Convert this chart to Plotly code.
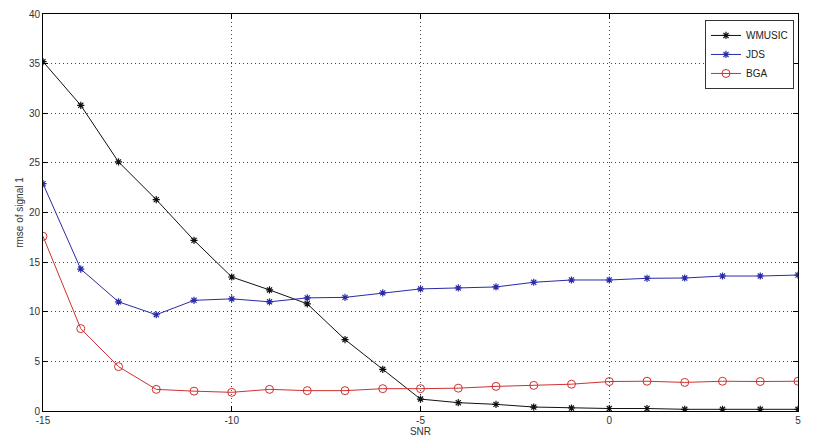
import plotly.graph_objects as go

snr = list(range(-15, 6))
wmusic = [35.2, 30.8, 25.1, 21.3, 17.2, 13.5, 12.2, 10.8, 7.2, 4.2, 1.2,
          0.84, 0.67, 0.4, 0.3, 0.25, 0.25, 0.17, 0.17, 0.17, 0.17]
jds = [22.9, 14.3, 11.0, 9.7, 11.15, 11.3, 11.0, 11.4, 11.45, 11.9, 12.3,
       12.4, 12.5, 12.97, 13.2, 13.2, 13.37, 13.4, 13.6, 13.6, 13.7]
bga = [17.6, 8.3, 4.47, 2.18, 2.0, 1.88, 2.18, 2.05, 2.05, 2.25, 2.25,
       2.3, 2.48, 2.58, 2.7, 2.97, 3.0, 2.88, 3.0, 2.97, 3.0]

x_ticks = [-15, -10, -5, 0, 5]
y_ticks = [0, 5, 10, 15, 20, 25, 30, 35, 40]

fig = go.Figure()
fig.add_trace(go.Scatter(x=snr, y=wmusic, name="WMUSIC", mode="lines+markers",
                         line=dict(color="#111111", width=1),
                         marker=dict(symbol="asterisk-open", size=6,
                                     line=dict(color="#111111", width=1.2))))
fig.add_trace(go.Scatter(x=snr, y=jds, name="JDS", mode="lines+markers",
                         line=dict(color="#2a2aa8", width=1),
                         marker=dict(symbol="asterisk-open", size=6,
                                     line=dict(color="#2a2aa8", width=1.2))))
fig.add_trace(go.Scatter(x=snr, y=bga, name="BGA", mode="lines+markers",
                         line=dict(color="#d03030", width=1),
                         marker=dict(symbol="circle-open", size=8,
                                     line=dict(color="#d03030", width=1))))

axis_font = dict(family="Liberation Sans, Arial, sans-serif", size=10, color="#333333")

fig.update_layout(
    width=813, height=444,
    margin=dict(l=43, r=15, t=14, b=33),
    paper_bgcolor="white", plot_bgcolor="white",
    font=axis_font,
    showlegend=True,
    legend=dict(x=0.9947, y=0.985, xanchor="right", yanchor="top",
                bgcolor="white", bordercolor="#333333", borderwidth=1,
                font=dict(family="Liberation Sans, Arial, sans-serif", size=10, color="#222222"),
                tracegroupgap=0, itemwidth=30),
    xaxis=dict(range=[-15, 5], tickvals=x_ticks, ticktext=[str(v) for v in x_ticks],
               showgrid=True, gridcolor="#444444", griddash="1px,3px", gridwidth=1,
               zeroline=False, showline=True, linecolor="black", linewidth=1,
               mirror="ticks", ticks="inside", ticklen=5, tickcolor="black",
               automargin=False,
               title=dict(text="SNR", standoff=1, font=axis_font)),
    yaxis=dict(range=[0, 40], tickvals=y_ticks, ticktext=[str(v) for v in y_ticks],
               showgrid=True, gridcolor="#444444", griddash="1px,3px", gridwidth=1,
               zeroline=False, showline=True, linecolor="black", linewidth=1,
               mirror="ticks", ticks="inside", ticklen=5, tickcolor="black",
               automargin=False,
               title=dict(text="rmse of signal 1", standoff=3, font=axis_font)),
)

fig.write_html("out.html", config={"displayModeBar": False},
               post_script="document.body.style.margin='0px';")
